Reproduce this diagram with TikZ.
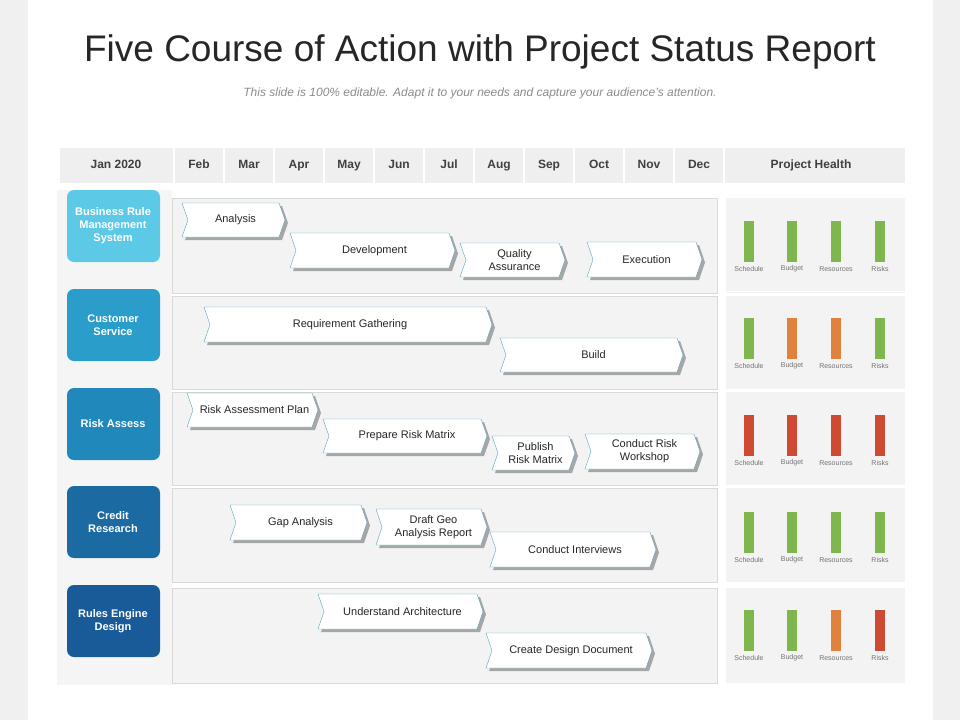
\documentclass[tikz,border=0pt]{standalone}
\usepackage{fontspec}
\setmainfont{Liberation Sans}
\usetikzlibrary{positioning}

\definecolor{panelgray}{HTML}{F3F3F3}
\definecolor{headgray}{HTML}{EFEFEF}
\definecolor{edgeblue}{HTML}{5AA3BE}
\definecolor{okgreen}{HTML}{7FB64E}
\definecolor{warnorange}{HTML}{E0823D}
\definecolor{badred}{HTML}{CE4A32}
\definecolor{tabA}{HTML}{5CC9E7}
\definecolor{tabB}{HTML}{2A9DCA}
\definecolor{tabC}{HTML}{2188BB}
\definecolor{tabD}{HTML}{1B6AA2}
\definecolor{tabE}{HTML}{195A98}

\tikzset{
  monthlabel/.style = { font = \fontsize{12}{14}\selectfont\bfseries, text = black!75,
                        text height = 1.5ex, text depth = .3ex },
  tabbox/.style     = { rounded corners = 7pt, draw = none },
  tablabel/.style   = { font = \fontsize{11}{13}\selectfont\bfseries, text = white, align = center },
  chevlabel/.style  = { font = \fontsize{11}{13}\selectfont, text = black!85, align = center },
  healthlabel/.style= { font = \fontsize{7}{8}\selectfont, text = black!55 }
}

% chevron: x1, y1, x2, y2, name, text
\newcommand{\chev}[6]{%
  \fill[black!35] (#1+3,#2+3) -- (#3-3,#2+3) -- (#3+3,#2/2+#4/2+3) -- (#3-3,#4+3)
        -- (#1+3,#4+3) -- (#1+9,#2/2+#4/2+3) -- cycle;
  \draw[edgeblue, fill = white] (#1,#2) -- (#3-6,#2) -- (#3,#2/2+#4/2) -- (#3-6,#4)
        -- (#1,#4) -- (#1+6,#2/2+#4/2) -- cycle;
  \node[chevlabel] (#5) at (#1/2+#3/2+2,#2/2+#4/2) {#6};}

% health bar column: x, top y, colour, label
\newcommand{\healthbar}[4]{%
  \fill[#3] (#1-5,#2) rectangle (#1+5,#2+41);
  \node[healthlabel] at (#1,#2+48) {#4};}

\begin{document}
\begin{tikzpicture}[x = 1pt, y = -1pt]
  \useasboundingbox (0,0) rectangle (960,720);
  \fill[black!6] (0,0) rectangle (960,720);
  \fill[white] (28,0) rectangle (933,720);

  % title
  \node[font = \fontsize{37}{42}\selectfont, text = black!85] (title) at (480,52)
    {Five Course of Action with Project Status Report};
  \node[font = \fontsize{12}{14}\selectfont\itshape, text = black!45] (subtitle) at (480,93)
    {This slide is 100\% editable. Adapt it to your needs and capture your audience's attention.};

  % header row
  \fill[headgray] (60,148) rectangle (905,183);
  \foreach \x in {174,224,...,724}
    \draw[white, line width = 1.5pt] (\x,148) -- (\x,183);
  \node[monthlabel] (jan) at (116,165) {Jan 2020};
  \foreach \m [count = \i] in {Feb,Mar,Apr,May,Jun,Jul,Aug,Sep,Oct,Nov,Dec}
    \node[monthlabel] (m\i) at (149+50*\i,165) {\m};
  \node[monthlabel] (health) at (811,165) {Project Health};

  % panels
  \fill[black!4] (57,190) rectangle (172,685);
  \foreach \ya/\yb in {198/293, 296/389, 392/485, 488/582, 588/683} {
    \draw[black!15, fill = panelgray] (172,\ya) rectangle (717,\yb);
    \fill[panelgray] (726,\ya) rectangle (905,\yb);
  }
  \draw[white, line width = 1pt] (726,291) -- (905,291) (726,389) -- (905,389)
    (726,485) -- (905,485) (726,582) -- (905,582);

  % tabs
  \foreach \y/\c/\t [count = \i] in {190/tabA/{Business Rule\\Management\\System},
      289/tabB/{Customer\\Service}, 388/tabC/{Risk Assess},
      486/tabD/{Credit\\Research}, 585/tabE/{Rules Engine\\Design}} {
    \fill[\c, tabbox] (67,\y) rectangle (160,\y+72);
    \node[tablabel] (tab\i) at (113,\y+36) {\t};
  }

  % row 1
  \chev{182}{203}{285}{237}{analysis}{Analysis}
  \chev{290}{233}{455}{268}{devel}{Development}
  \chev{460}{243}{565}{277}{qa}{Quality\\Assurance}
  \chev{587}{242}{702}{277}{exec}{Execution}
  % row 2
  \chev{204}{307}{492}{342}{reqgath}{Requirement Gathering}
  \chev{500}{338}{683}{372}{build}{Build}
  % row 3
  \chev{187}{393}{318}{427}{riskplan}{Risk Assessment Plan}
  \chev{323}{419}{487}{453}{riskmatrix}{Prepare Risk Matrix}
  \chev{492}{436}{575}{470}{publish}{Publish\\Risk Matrix}
  \chev{585}{434}{700}{469}{workshop}{Conduct Risk\\Workshop}
  % row 4
  \chev{230}{505}{367}{540}{gap}{Gap Analysis}
  \chev{376}{509}{487}{545}{geo}{Draft Geo\\Analysis Report}
  \chev{490}{532}{656}{567}{interviews}{Conduct Interviews}
  % row 5
  \chev{318}{594}{483}{629}{arch}{Understand Architecture}
  \chev{486}{633}{652}{668}{design}{Create Design Document}

  % project health
  \foreach \y/\ca/\cb/\cc/\cd in {221/okgreen/okgreen/okgreen/okgreen,
      318/okgreen/warnorange/warnorange/okgreen,
      415/badred/badred/badred/badred,
      512/okgreen/okgreen/okgreen/okgreen,
      610/okgreen/okgreen/warnorange/badred} {
    \healthbar{749}{\y}{\ca}{Schedule}
    \healthbar{792}{\y}{\cb}{Budget}
    \healthbar{836}{\y}{\cc}{Resources}
    \healthbar{880}{\y}{\cd}{Risks}
  }
\end{tikzpicture}
\end{document}
